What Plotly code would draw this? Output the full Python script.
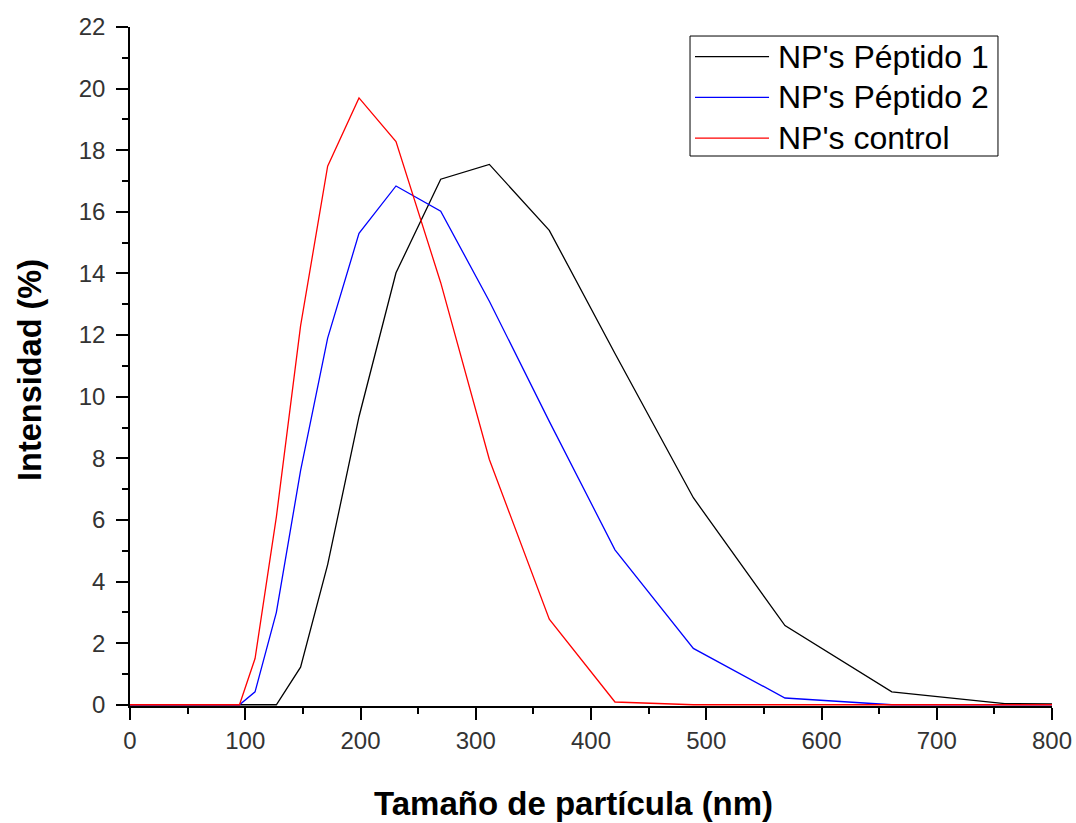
import plotly.graph_objects as go

# Particle size bins (nm)
size_nm = [0, 95, 108.5, 127, 148, 171.5, 198.7, 230.8, 269.6, 311.8, 363.8,
           420.8, 488.8, 568.3, 661, 759, 883]

# Intensity (%) per series
peptido1 = [0, 0, 0, 0, 1.22, 4.55, 9.35, 14.02, 17.06, 17.54, 15.40,
            11.4, 6.72, 2.57, 0.42, 0.04, 0]
peptido2 = [0, 0, 0.42, 3.0, 7.6, 11.9, 15.3, 16.84, 16.02, 13.1, 9.2,
            5.03, 1.83, 0.22, 0, 0, 0]
control = [0, 0, 1.5, 6.1, 12.3, 17.48, 19.70, 18.28, 13.7, 7.96, 2.78,
           0.09, 0, 0, 0, 0, 0]

series_names = ["NP's Péptido 1", "NP's Péptido 2", "NP's control"]
series_colors = ["#000000", "#0000FF", "#FF0000"]

x_ticks = list(range(0, 801, 100))
y_ticks = list(range(0, 23, 2))

FONT = "Liberation Sans, Arial, sans-serif"

fig = go.Figure()
for name, vals, col in zip(series_names, [peptido1, peptido2, control], series_colors):
    fig.add_trace(go.Scatter(x=size_nm, y=vals, mode="lines", name=name,
                             line=dict(color=col, width=1.3), showlegend=False))

axis_common = dict(
    showline=True, linecolor="black", linewidth=1.5, mirror=False,
    ticks="outside", ticklen=12, tickwidth=1.5, tickcolor="black",
    showgrid=False, zeroline=False, layer="below traces",
    tickfont=dict(family=FONT, size=24, color="#333333"),
)

fig.update_xaxes(
    range=[0, 800], tickvals=x_ticks, ticktext=[str(v) for v in x_ticks],
    minor=dict(dtick=50, ticks="outside", ticklen=6, tickwidth=1.5, tickcolor="black"),
    ticklabelstandoff=0,
    **axis_common,
)
fig.update_yaxes(
    range=[-0.04, 22], tickvals=y_ticks, ticktext=[str(v) for v in y_ticks],
    minor=dict(dtick=1, tick0=0, ticks="outside", ticklen=6, tickwidth=1.5, tickcolor="black"),
    ticklabelstandoff=6,
    **axis_common,
)

# Axis titles
annotations = [
    dict(text="<b>Tamaño de partícula (nm)</b>", xref="paper", yref="paper",
         x=0.481, y=-0.143, xanchor="center", yanchor="middle", showarrow=False,
         font=dict(family=FONT, size=33, color="black")),
    dict(text="<b>Intensidad (%)</b>", xref="paper", yref="paper",
         x=-0.1085, y=0.4948, xanchor="center", yanchor="middle", showarrow=False,
         textangle=-90, font=dict(family=FONT, size=32.5, color="black")),
]

# Legend (box, line samples, labels)
shapes = [dict(type="rect", xref="paper", yref="paper",
               x0=0.6074, x1=0.9414, y0=0.8100, y1=0.9867,
               line=dict(color="black", width=1), fillcolor="white", layer="above")]
row_y0 = 0.9565
row_step = 0.0601
for i, (name, col) in enumerate(zip(series_names, series_colors)):
    yy = row_y0 - i * row_step
    shapes.append(dict(type="line", xref="paper", yref="paper",
                       x0=0.6128, x1=0.6931, y0=yy, y1=yy,
                       line=dict(color=col, width=1.3), layer="above"))
    annotations.append(dict(text=name, xref="paper", yref="paper",
                            x=0.7005, y=yy, xanchor="left", yanchor="middle",
                            showarrow=False,
                            font=dict(family=FONT, size=32, color="black")))

fig.update_layout(
    width=1076, height=823,
    margin=dict(l=130, r=24, t=27, b=117, autoexpand=False),
    paper_bgcolor="white", plot_bgcolor="white",
    font=dict(family=FONT),
    showlegend=False,
    shapes=shapes,
    annotations=annotations,
)

fig.write_html("out.html")
